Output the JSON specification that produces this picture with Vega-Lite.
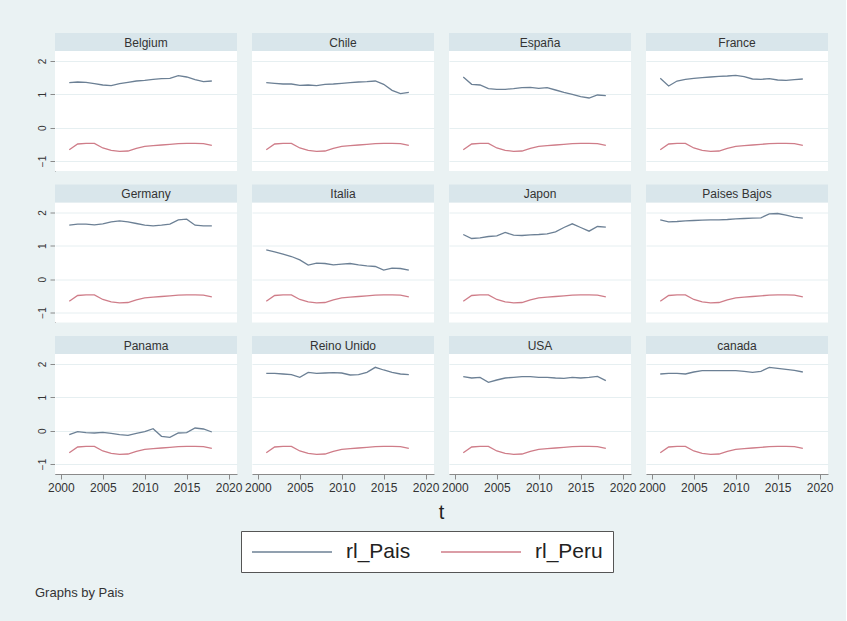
{
  "$schema": "https://vega.github.io/schema/vega-lite/v6.json",
  "background": "#eaf2f3",
  "padding": {"left": 35, "top": 32, "right": 13, "bottom": 22},
  "autosize": {"type": "pad"},
  "title": {"text": "Graphs by Pais", "orient": "bottom", "anchor": "start", "frame": "bounds", "fontSize": 13, "fontWeight": "normal", "font": "Liberation Sans", "color": "#333333", "offset": 14, "dx": -2},
  "spacing": 8,
  "vconcat": [
    {
      "data": {"values": [
        {"Pais":"Belgium","t":2001,"rl_Pais":1.35,"rl_Peru":-0.66},{"Pais":"Belgium","t":2002,"rl_Pais":1.37,"rl_Peru":-0.49},{"Pais":"Belgium","t":2003,"rl_Pais":1.36,"rl_Peru":-0.47},{"Pais":"Belgium","t":2004,"rl_Pais":1.32,"rl_Peru":-0.47},{"Pais":"Belgium","t":2005,"rl_Pais":1.28,"rl_Peru":-0.61},{"Pais":"Belgium","t":2006,"rl_Pais":1.26,"rl_Peru":-0.68},{"Pais":"Belgium","t":2007,"rl_Pais":1.32,"rl_Peru":-0.71},{"Pais":"Belgium","t":2008,"rl_Pais":1.36,"rl_Peru":-0.70},{"Pais":"Belgium","t":2009,"rl_Pais":1.40,"rl_Peru":-0.62},{"Pais":"Belgium","t":2010,"rl_Pais":1.42,"rl_Peru":-0.56},{"Pais":"Belgium","t":2011,"rl_Pais":1.45,"rl_Peru":-0.54},{"Pais":"Belgium","t":2012,"rl_Pais":1.47,"rl_Peru":-0.52},{"Pais":"Belgium","t":2013,"rl_Pais":1.48,"rl_Peru":-0.50},{"Pais":"Belgium","t":2014,"rl_Pais":1.56,"rl_Peru":-0.48},{"Pais":"Belgium","t":2015,"rl_Pais":1.52,"rl_Peru":-0.47},{"Pais":"Belgium","t":2016,"rl_Pais":1.44,"rl_Peru":-0.47},{"Pais":"Belgium","t":2017,"rl_Pais":1.38,"rl_Peru":-0.48},{"Pais":"Belgium","t":2018,"rl_Pais":1.40,"rl_Peru":-0.53},
        {"Pais":"Chile","t":2001,"rl_Pais":1.35,"rl_Peru":-0.66},{"Pais":"Chile","t":2002,"rl_Pais":1.33,"rl_Peru":-0.49},{"Pais":"Chile","t":2003,"rl_Pais":1.31,"rl_Peru":-0.47},{"Pais":"Chile","t":2004,"rl_Pais":1.31,"rl_Peru":-0.47},{"Pais":"Chile","t":2005,"rl_Pais":1.27,"rl_Peru":-0.61},{"Pais":"Chile","t":2006,"rl_Pais":1.28,"rl_Peru":-0.68},{"Pais":"Chile","t":2007,"rl_Pais":1.26,"rl_Peru":-0.71},{"Pais":"Chile","t":2008,"rl_Pais":1.30,"rl_Peru":-0.70},{"Pais":"Chile","t":2009,"rl_Pais":1.31,"rl_Peru":-0.62},{"Pais":"Chile","t":2010,"rl_Pais":1.33,"rl_Peru":-0.56},{"Pais":"Chile","t":2011,"rl_Pais":1.35,"rl_Peru":-0.54},{"Pais":"Chile","t":2012,"rl_Pais":1.37,"rl_Peru":-0.52},{"Pais":"Chile","t":2013,"rl_Pais":1.38,"rl_Peru":-0.50},{"Pais":"Chile","t":2014,"rl_Pais":1.40,"rl_Peru":-0.48},{"Pais":"Chile","t":2015,"rl_Pais":1.30,"rl_Peru":-0.47},{"Pais":"Chile","t":2016,"rl_Pais":1.12,"rl_Peru":-0.47},{"Pais":"Chile","t":2017,"rl_Pais":1.02,"rl_Peru":-0.48},{"Pais":"Chile","t":2018,"rl_Pais":1.06,"rl_Peru":-0.53},
        {"Pais":"España","t":2001,"rl_Pais":1.52,"rl_Peru":-0.66},{"Pais":"España","t":2002,"rl_Pais":1.30,"rl_Peru":-0.49},{"Pais":"España","t":2003,"rl_Pais":1.28,"rl_Peru":-0.47},{"Pais":"España","t":2004,"rl_Pais":1.17,"rl_Peru":-0.47},{"Pais":"España","t":2005,"rl_Pais":1.15,"rl_Peru":-0.61},{"Pais":"España","t":2006,"rl_Pais":1.15,"rl_Peru":-0.68},{"Pais":"España","t":2007,"rl_Pais":1.17,"rl_Peru":-0.71},{"Pais":"España","t":2008,"rl_Pais":1.20,"rl_Peru":-0.70},{"Pais":"España","t":2009,"rl_Pais":1.21,"rl_Peru":-0.62},{"Pais":"España","t":2010,"rl_Pais":1.18,"rl_Peru":-0.56},{"Pais":"España","t":2011,"rl_Pais":1.20,"rl_Peru":-0.54},{"Pais":"España","t":2012,"rl_Pais":1.13,"rl_Peru":-0.52},{"Pais":"España","t":2013,"rl_Pais":1.06,"rl_Peru":-0.50},{"Pais":"España","t":2014,"rl_Pais":1.00,"rl_Peru":-0.48},{"Pais":"España","t":2015,"rl_Pais":0.93,"rl_Peru":-0.47},{"Pais":"España","t":2016,"rl_Pais":0.89,"rl_Peru":-0.47},{"Pais":"España","t":2017,"rl_Pais":0.98,"rl_Peru":-0.48},{"Pais":"España","t":2018,"rl_Pais":0.96,"rl_Peru":-0.53},
        {"Pais":"France","t":2001,"rl_Pais":1.48,"rl_Peru":-0.66},{"Pais":"France","t":2002,"rl_Pais":1.25,"rl_Peru":-0.49},{"Pais":"France","t":2003,"rl_Pais":1.40,"rl_Peru":-0.47},{"Pais":"France","t":2004,"rl_Pais":1.45,"rl_Peru":-0.47},{"Pais":"France","t":2005,"rl_Pais":1.48,"rl_Peru":-0.61},{"Pais":"France","t":2006,"rl_Pais":1.50,"rl_Peru":-0.68},{"Pais":"France","t":2007,"rl_Pais":1.52,"rl_Peru":-0.71},{"Pais":"France","t":2008,"rl_Pais":1.54,"rl_Peru":-0.70},{"Pais":"France","t":2009,"rl_Pais":1.55,"rl_Peru":-0.62},{"Pais":"France","t":2010,"rl_Pais":1.57,"rl_Peru":-0.56},{"Pais":"France","t":2011,"rl_Pais":1.53,"rl_Peru":-0.54},{"Pais":"France","t":2012,"rl_Pais":1.46,"rl_Peru":-0.52},{"Pais":"France","t":2013,"rl_Pais":1.45,"rl_Peru":-0.50},{"Pais":"France","t":2014,"rl_Pais":1.47,"rl_Peru":-0.48},{"Pais":"France","t":2015,"rl_Pais":1.43,"rl_Peru":-0.47},{"Pais":"France","t":2016,"rl_Pais":1.42,"rl_Peru":-0.47},{"Pais":"France","t":2017,"rl_Pais":1.44,"rl_Peru":-0.48},{"Pais":"France","t":2018,"rl_Pais":1.46,"rl_Peru":-0.53},
        {"Pais":"Germany","t":2001,"rl_Pais":1.62,"rl_Peru":-0.66},{"Pais":"Germany","t":2002,"rl_Pais":1.65,"rl_Peru":-0.49},{"Pais":"Germany","t":2003,"rl_Pais":1.65,"rl_Peru":-0.47},{"Pais":"Germany","t":2004,"rl_Pais":1.63,"rl_Peru":-0.47},{"Pais":"Germany","t":2005,"rl_Pais":1.66,"rl_Peru":-0.61},{"Pais":"Germany","t":2006,"rl_Pais":1.72,"rl_Peru":-0.68},{"Pais":"Germany","t":2007,"rl_Pais":1.75,"rl_Peru":-0.71},{"Pais":"Germany","t":2008,"rl_Pais":1.72,"rl_Peru":-0.70},{"Pais":"Germany","t":2009,"rl_Pais":1.67,"rl_Peru":-0.62},{"Pais":"Germany","t":2010,"rl_Pais":1.62,"rl_Peru":-0.56},{"Pais":"Germany","t":2011,"rl_Pais":1.60,"rl_Peru":-0.54},{"Pais":"Germany","t":2012,"rl_Pais":1.62,"rl_Peru":-0.52},{"Pais":"Germany","t":2013,"rl_Pais":1.65,"rl_Peru":-0.50},{"Pais":"Germany","t":2014,"rl_Pais":1.78,"rl_Peru":-0.48},{"Pais":"Germany","t":2015,"rl_Pais":1.80,"rl_Peru":-0.47},{"Pais":"Germany","t":2016,"rl_Pais":1.62,"rl_Peru":-0.47},{"Pais":"Germany","t":2017,"rl_Pais":1.60,"rl_Peru":-0.48},{"Pais":"Germany","t":2018,"rl_Pais":1.60,"rl_Peru":-0.53},
        {"Pais":"Italia","t":2001,"rl_Pais":0.88,"rl_Peru":-0.66},{"Pais":"Italia","t":2002,"rl_Pais":0.82,"rl_Peru":-0.49},{"Pais":"Italia","t":2003,"rl_Pais":0.75,"rl_Peru":-0.47},{"Pais":"Italia","t":2004,"rl_Pais":0.68,"rl_Peru":-0.47},{"Pais":"Italia","t":2005,"rl_Pais":0.58,"rl_Peru":-0.61},{"Pais":"Italia","t":2006,"rl_Pais":0.42,"rl_Peru":-0.68},{"Pais":"Italia","t":2007,"rl_Pais":0.48,"rl_Peru":-0.71},{"Pais":"Italia","t":2008,"rl_Pais":0.47,"rl_Peru":-0.70},{"Pais":"Italia","t":2009,"rl_Pais":0.43,"rl_Peru":-0.62},{"Pais":"Italia","t":2010,"rl_Pais":0.45,"rl_Peru":-0.56},{"Pais":"Italia","t":2011,"rl_Pais":0.47,"rl_Peru":-0.54},{"Pais":"Italia","t":2012,"rl_Pais":0.43,"rl_Peru":-0.52},{"Pais":"Italia","t":2013,"rl_Pais":0.40,"rl_Peru":-0.50},{"Pais":"Italia","t":2014,"rl_Pais":0.38,"rl_Peru":-0.48},{"Pais":"Italia","t":2015,"rl_Pais":0.27,"rl_Peru":-0.47},{"Pais":"Italia","t":2016,"rl_Pais":0.33,"rl_Peru":-0.47},{"Pais":"Italia","t":2017,"rl_Pais":0.32,"rl_Peru":-0.48},{"Pais":"Italia","t":2018,"rl_Pais":0.27,"rl_Peru":-0.53},
        {"Pais":"Japon","t":2001,"rl_Pais":1.34,"rl_Peru":-0.66},{"Pais":"Japon","t":2002,"rl_Pais":1.22,"rl_Peru":-0.49},{"Pais":"Japon","t":2003,"rl_Pais":1.24,"rl_Peru":-0.47},{"Pais":"Japon","t":2004,"rl_Pais":1.28,"rl_Peru":-0.47},{"Pais":"Japon","t":2005,"rl_Pais":1.30,"rl_Peru":-0.61},{"Pais":"Japon","t":2006,"rl_Pais":1.40,"rl_Peru":-0.68},{"Pais":"Japon","t":2007,"rl_Pais":1.32,"rl_Peru":-0.71},{"Pais":"Japon","t":2008,"rl_Pais":1.31,"rl_Peru":-0.70},{"Pais":"Japon","t":2009,"rl_Pais":1.33,"rl_Peru":-0.62},{"Pais":"Japon","t":2010,"rl_Pais":1.34,"rl_Peru":-0.56},{"Pais":"Japon","t":2011,"rl_Pais":1.36,"rl_Peru":-0.54},{"Pais":"Japon","t":2012,"rl_Pais":1.42,"rl_Peru":-0.52},{"Pais":"Japon","t":2013,"rl_Pais":1.55,"rl_Peru":-0.50},{"Pais":"Japon","t":2014,"rl_Pais":1.66,"rl_Peru":-0.48},{"Pais":"Japon","t":2015,"rl_Pais":1.55,"rl_Peru":-0.47},{"Pais":"Japon","t":2016,"rl_Pais":1.44,"rl_Peru":-0.47},{"Pais":"Japon","t":2017,"rl_Pais":1.58,"rl_Peru":-0.48},{"Pais":"Japon","t":2018,"rl_Pais":1.56,"rl_Peru":-0.53},
        {"Pais":"Paises Bajos","t":2001,"rl_Pais":1.78,"rl_Peru":-0.66},{"Pais":"Paises Bajos","t":2002,"rl_Pais":1.72,"rl_Peru":-0.49},{"Pais":"Paises Bajos","t":2003,"rl_Pais":1.73,"rl_Peru":-0.47},{"Pais":"Paises Bajos","t":2004,"rl_Pais":1.75,"rl_Peru":-0.47},{"Pais":"Paises Bajos","t":2005,"rl_Pais":1.76,"rl_Peru":-0.61},{"Pais":"Paises Bajos","t":2006,"rl_Pais":1.77,"rl_Peru":-0.68},{"Pais":"Paises Bajos","t":2007,"rl_Pais":1.78,"rl_Peru":-0.71},{"Pais":"Paises Bajos","t":2008,"rl_Pais":1.78,"rl_Peru":-0.70},{"Pais":"Paises Bajos","t":2009,"rl_Pais":1.79,"rl_Peru":-0.62},{"Pais":"Paises Bajos","t":2010,"rl_Pais":1.81,"rl_Peru":-0.56},{"Pais":"Paises Bajos","t":2011,"rl_Pais":1.82,"rl_Peru":-0.54},{"Pais":"Paises Bajos","t":2012,"rl_Pais":1.83,"rl_Peru":-0.52},{"Pais":"Paises Bajos","t":2013,"rl_Pais":1.84,"rl_Peru":-0.50},{"Pais":"Paises Bajos","t":2014,"rl_Pais":1.96,"rl_Peru":-0.48},{"Pais":"Paises Bajos","t":2015,"rl_Pais":1.97,"rl_Peru":-0.47},{"Pais":"Paises Bajos","t":2016,"rl_Pais":1.92,"rl_Peru":-0.47},{"Pais":"Paises Bajos","t":2017,"rl_Pais":1.86,"rl_Peru":-0.48},{"Pais":"Paises Bajos","t":2018,"rl_Pais":1.83,"rl_Peru":-0.53},
        {"Pais":"Panama","t":2001,"rl_Pais":-0.12,"rl_Peru":-0.66},{"Pais":"Panama","t":2002,"rl_Pais":-0.03,"rl_Peru":-0.49},{"Pais":"Panama","t":2003,"rl_Pais":-0.06,"rl_Peru":-0.47},{"Pais":"Panama","t":2004,"rl_Pais":-0.07,"rl_Peru":-0.47},{"Pais":"Panama","t":2005,"rl_Pais":-0.05,"rl_Peru":-0.61},{"Pais":"Panama","t":2006,"rl_Pais":-0.08,"rl_Peru":-0.68},{"Pais":"Panama","t":2007,"rl_Pais":-0.12,"rl_Peru":-0.71},{"Pais":"Panama","t":2008,"rl_Pais":-0.14,"rl_Peru":-0.70},{"Pais":"Panama","t":2009,"rl_Pais":-0.08,"rl_Peru":-0.62},{"Pais":"Panama","t":2010,"rl_Pais":-0.03,"rl_Peru":-0.56},{"Pais":"Panama","t":2011,"rl_Pais":0.06,"rl_Peru":-0.54},{"Pais":"Panama","t":2012,"rl_Pais":-0.17,"rl_Peru":-0.52},{"Pais":"Panama","t":2013,"rl_Pais":-0.20,"rl_Peru":-0.50},{"Pais":"Panama","t":2014,"rl_Pais":-0.07,"rl_Peru":-0.48},{"Pais":"Panama","t":2015,"rl_Pais":-0.06,"rl_Peru":-0.47},{"Pais":"Panama","t":2016,"rl_Pais":0.08,"rl_Peru":-0.47},{"Pais":"Panama","t":2017,"rl_Pais":0.05,"rl_Peru":-0.48},{"Pais":"Panama","t":2018,"rl_Pais":-0.04,"rl_Peru":-0.53},
        {"Pais":"Reino Unido","t":2001,"rl_Pais":1.72,"rl_Peru":-0.66},{"Pais":"Reino Unido","t":2002,"rl_Pais":1.72,"rl_Peru":-0.49},{"Pais":"Reino Unido","t":2003,"rl_Pais":1.70,"rl_Peru":-0.47},{"Pais":"Reino Unido","t":2004,"rl_Pais":1.68,"rl_Peru":-0.47},{"Pais":"Reino Unido","t":2005,"rl_Pais":1.60,"rl_Peru":-0.61},{"Pais":"Reino Unido","t":2006,"rl_Pais":1.75,"rl_Peru":-0.68},{"Pais":"Reino Unido","t":2007,"rl_Pais":1.72,"rl_Peru":-0.71},{"Pais":"Reino Unido","t":2008,"rl_Pais":1.73,"rl_Peru":-0.70},{"Pais":"Reino Unido","t":2009,"rl_Pais":1.74,"rl_Peru":-0.62},{"Pais":"Reino Unido","t":2010,"rl_Pais":1.73,"rl_Peru":-0.56},{"Pais":"Reino Unido","t":2011,"rl_Pais":1.67,"rl_Peru":-0.54},{"Pais":"Reino Unido","t":2012,"rl_Pais":1.68,"rl_Peru":-0.52},{"Pais":"Reino Unido","t":2013,"rl_Pais":1.75,"rl_Peru":-0.50},{"Pais":"Reino Unido","t":2014,"rl_Pais":1.90,"rl_Peru":-0.48},{"Pais":"Reino Unido","t":2015,"rl_Pais":1.82,"rl_Peru":-0.47},{"Pais":"Reino Unido","t":2016,"rl_Pais":1.75,"rl_Peru":-0.47},{"Pais":"Reino Unido","t":2017,"rl_Pais":1.70,"rl_Peru":-0.48},{"Pais":"Reino Unido","t":2018,"rl_Pais":1.68,"rl_Peru":-0.53},
        {"Pais":"USA","t":2001,"rl_Pais":1.62,"rl_Peru":-0.66},{"Pais":"USA","t":2002,"rl_Pais":1.58,"rl_Peru":-0.49},{"Pais":"USA","t":2003,"rl_Pais":1.60,"rl_Peru":-0.47},{"Pais":"USA","t":2004,"rl_Pais":1.45,"rl_Peru":-0.47},{"Pais":"USA","t":2005,"rl_Pais":1.52,"rl_Peru":-0.61},{"Pais":"USA","t":2006,"rl_Pais":1.58,"rl_Peru":-0.68},{"Pais":"USA","t":2007,"rl_Pais":1.60,"rl_Peru":-0.71},{"Pais":"USA","t":2008,"rl_Pais":1.62,"rl_Peru":-0.70},{"Pais":"USA","t":2009,"rl_Pais":1.62,"rl_Peru":-0.62},{"Pais":"USA","t":2010,"rl_Pais":1.60,"rl_Peru":-0.56},{"Pais":"USA","t":2011,"rl_Pais":1.60,"rl_Peru":-0.54},{"Pais":"USA","t":2012,"rl_Pais":1.58,"rl_Peru":-0.52},{"Pais":"USA","t":2013,"rl_Pais":1.57,"rl_Peru":-0.50},{"Pais":"USA","t":2014,"rl_Pais":1.60,"rl_Peru":-0.48},{"Pais":"USA","t":2015,"rl_Pais":1.58,"rl_Peru":-0.47},{"Pais":"USA","t":2016,"rl_Pais":1.60,"rl_Peru":-0.47},{"Pais":"USA","t":2017,"rl_Pais":1.63,"rl_Peru":-0.48},{"Pais":"USA","t":2018,"rl_Pais":1.50,"rl_Peru":-0.53},
        {"Pais":"canada","t":2001,"rl_Pais":1.70,"rl_Peru":-0.66},{"Pais":"canada","t":2002,"rl_Pais":1.72,"rl_Peru":-0.49},{"Pais":"canada","t":2003,"rl_Pais":1.72,"rl_Peru":-0.47},{"Pais":"canada","t":2004,"rl_Pais":1.70,"rl_Peru":-0.47},{"Pais":"canada","t":2005,"rl_Pais":1.76,"rl_Peru":-0.61},{"Pais":"canada","t":2006,"rl_Pais":1.80,"rl_Peru":-0.68},{"Pais":"canada","t":2007,"rl_Pais":1.80,"rl_Peru":-0.71},{"Pais":"canada","t":2008,"rl_Pais":1.80,"rl_Peru":-0.70},{"Pais":"canada","t":2009,"rl_Pais":1.80,"rl_Peru":-0.62},{"Pais":"canada","t":2010,"rl_Pais":1.80,"rl_Peru":-0.56},{"Pais":"canada","t":2011,"rl_Pais":1.78,"rl_Peru":-0.54},{"Pais":"canada","t":2012,"rl_Pais":1.75,"rl_Peru":-0.52},{"Pais":"canada","t":2013,"rl_Pais":1.78,"rl_Peru":-0.50},{"Pais":"canada","t":2014,"rl_Pais":1.90,"rl_Peru":-0.48},{"Pais":"canada","t":2015,"rl_Pais":1.87,"rl_Peru":-0.47},{"Pais":"canada","t":2016,"rl_Pais":1.84,"rl_Peru":-0.47},{"Pais":"canada","t":2017,"rl_Pais":1.81,"rl_Peru":-0.48},{"Pais":"canada","t":2018,"rl_Pais":1.76,"rl_Peru":-0.53}
      ]},
      "transform": [{"fold": ["rl_Pais", "rl_Peru"], "as": ["serie", "valor"]}],
      "facet": {"field": "Pais", "type": "nominal", "title": null,
        "sort": ["Belgium","Chile","España","France","Germany","Italia","Japon","Paises Bajos","Panama","Reino Unido","USA","canada"],
        "header": {"title": null, "labelFontSize": 12, "labelFont": "Liberation Sans", "labelColor": "#333333", "labelPadding": -21.5, "labelBaseline": "middle"}},
      "columns": 4,
      "spacing": {"row": 12.5, "column": 15},
      "spec": {
        "width": 182,
        "height": 120,
        "layer": [
          {
            "mark": {"type": "line", "strokeWidth": 1.3},
            "encoding": {
              "x": {"field": "t", "type": "quantitative",
                "scale": {"domain": [1999.3, 2021.0], "nice": false, "zero": false},
                "axis": {"values": [2000, 2005, 2010, 2015, 2020], "format": "d", "title": null, "grid": false}},
              "y": {"field": "valor", "type": "quantitative",
                "scale": {"domain": [-1.3, 2.3], "nice": false, "zero": false},
                "axis": {"values": [-1, 0, 1, 2], "title": null, "grid": true, "labelAngle": 270, "labelAlign": "center", "labelBaseline": "bottom", "labelOverlap": false, "labelBound": false}},
              "color": {"field": "serie", "type": "nominal",
                "scale": {"domain": ["rl_Pais", "rl_Peru"], "range": ["#6c8095", "#cf7d89"]},
                "legend": {"orient": "none", "legendX": 186, "legendY": 480, "direction": "horizontal", "title": null,
                  "symbolType": "M-1,0H7", "symbolSize": 400, "symbolStrokeWidth": 1.5,
                  "labelFontSize": 21, "labelFont": "Liberation Sans", "labelColor": "#222222", "labelOffset": 73,
                  "fillColor": "white", "strokeColor": "#555555", "padding": 10, "columnPadding": 27}}
            }
          },
          {
            "transform": [{"filter": "datum.t == 2001 && datum.serie == 'rl_Pais'"}],
            "mark": {"type": "rect", "fill": "#d9e6eb", "stroke": null},
            "encoding": {
              "y": {"datum": 2.3, "type": "quantitative",
                "axis": {"values": [-1, 0, 1, 2], "title": null, "grid": true, "labelAngle": 270, "labelAlign": "center", "labelBaseline": "bottom", "labelOverlap": false, "labelBound": false}},
              "y2": {"datum": 2.84}
            }
          }
        ]
      }
    },
    {
      "width": 773,
      "height": 24,
      "view": {"fill": null, "stroke": null},
      "data": {"values": [{"lab": "t"}]},
      "mark": {"type": "text", "font": "Liberation Sans", "fontSize": 20, "color": "#222222", "baseline": "middle"},
      "encoding": {"text": {"field": "lab", "type": "nominal"}}
    }
  ],
  "config": {
    "view": {"fill": "white", "stroke": null},
    "axis": {"domainColor": "#8a8a8a", "tickColor": "#8a8a8a", "tickSize": 5, "labelColor": "#333333", "labelFont": "Liberation Sans", "gridColor": "#e6eff1", "gridWidth": 1},
    "axisX": {"labelFontSize": 12, "labelPadding": 3},
    "axisY": {"labelFontSize": 10, "labelPadding": 3}
  }
}
